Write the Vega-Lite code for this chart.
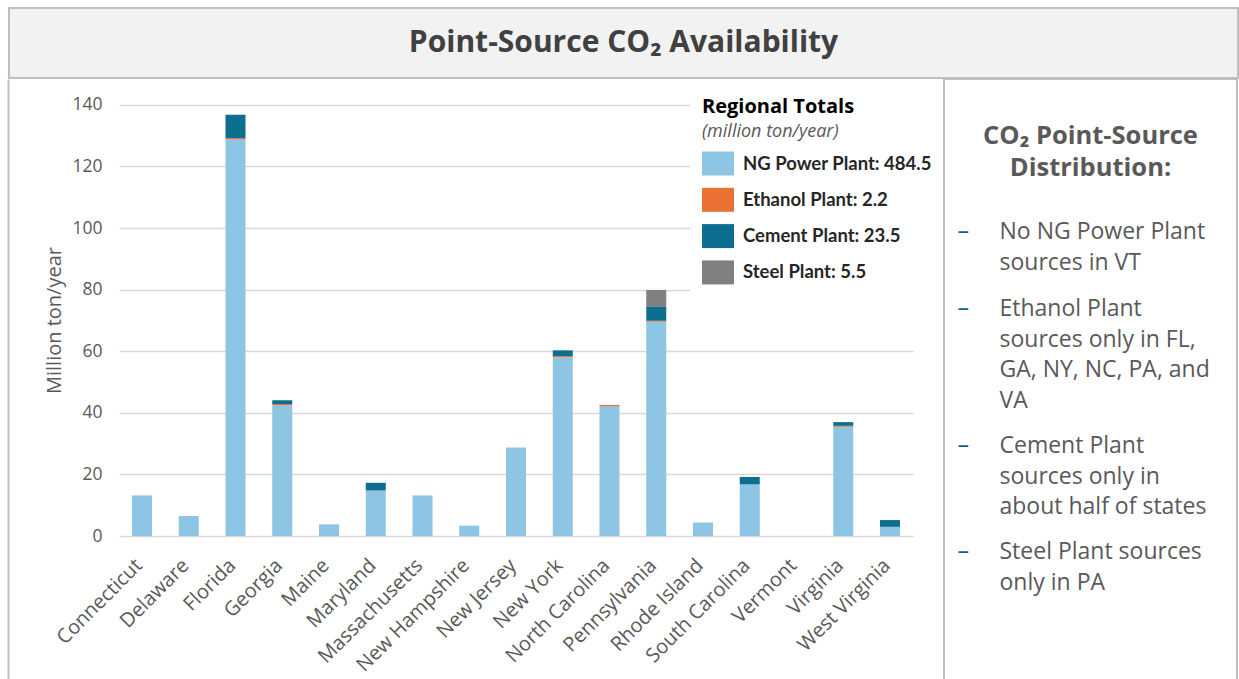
{
  "$schema": "https://vega.github.io/schema/vega-lite/v6.json",
  "padding": {"left": 8, "top": 7, "right": 0, "bottom": 0},
  "background": "white",
  "spacing": -2,
  "resolve": {"legend": {"color": "independent"}},
  "config": {
    "font": "Open Sans",
    "view": {"stroke": null},
    "axis": {"labelFont": "Open Sans", "titleFont": "Open Sans"},
    "text": {"font": "Open Sans"}
  },
  "datasets": {
    "emissions": [
      {"state": "Connecticut", "source": "NG Power Plant", "tier": 1, "value": 13.2},
      {"state": "Delaware", "source": "NG Power Plant", "tier": 1, "value": 6.5},
      {"state": "Florida", "source": "NG Power Plant", "tier": 1, "value": 128.8},
      {"state": "Florida", "source": "Ethanol Plant", "tier": 2, "value": 0.4},
      {"state": "Florida", "source": "Cement Plant", "tier": 3, "value": 7.6},
      {"state": "Georgia", "source": "NG Power Plant", "tier": 1, "value": 42.5},
      {"state": "Georgia", "source": "Ethanol Plant", "tier": 2, "value": 0.4},
      {"state": "Georgia", "source": "Cement Plant", "tier": 3, "value": 1.2},
      {"state": "Maine", "source": "NG Power Plant", "tier": 1, "value": 3.8},
      {"state": "Maryland", "source": "NG Power Plant", "tier": 1, "value": 14.8},
      {"state": "Maryland", "source": "Cement Plant", "tier": 3, "value": 2.5},
      {"state": "Massachusetts", "source": "NG Power Plant", "tier": 1, "value": 13.2},
      {"state": "New Hampshire", "source": "NG Power Plant", "tier": 1, "value": 3.4},
      {"state": "New Jersey", "source": "NG Power Plant", "tier": 1, "value": 28.8},
      {"state": "New York", "source": "NG Power Plant", "tier": 1, "value": 58.0},
      {"state": "New York", "source": "Ethanol Plant", "tier": 2, "value": 0.4},
      {"state": "New York", "source": "Cement Plant", "tier": 3, "value": 1.9},
      {"state": "North Carolina", "source": "NG Power Plant", "tier": 1, "value": 42.2},
      {"state": "North Carolina", "source": "Ethanol Plant", "tier": 2, "value": 0.4},
      {"state": "Pennsylvania", "source": "NG Power Plant", "tier": 1, "value": 69.6},
      {"state": "Pennsylvania", "source": "Ethanol Plant", "tier": 2, "value": 0.3},
      {"state": "Pennsylvania", "source": "Cement Plant", "tier": 3, "value": 4.5},
      {"state": "Pennsylvania", "source": "Steel Plant", "tier": 4, "value": 5.5},
      {"state": "Rhode Island", "source": "NG Power Plant", "tier": 1, "value": 4.4},
      {"state": "South Carolina", "source": "NG Power Plant", "tier": 1, "value": 16.8},
      {"state": "South Carolina", "source": "Cement Plant", "tier": 3, "value": 2.4},
      {"state": "Virginia", "source": "NG Power Plant", "tier": 1, "value": 35.5},
      {"state": "Virginia", "source": "Ethanol Plant", "tier": 2, "value": 0.3},
      {"state": "Virginia", "source": "Cement Plant", "tier": 3, "value": 1.2},
      {"state": "West Virginia", "source": "NG Power Plant", "tier": 1, "value": 3.0},
      {"state": "West Virginia", "source": "Cement Plant", "tier": 3, "value": 2.2}
    ],
    "notes": [
      {"item": 1, "lines": ["No NG Power Plant", "sources in VT"]},
      {"item": 2, "lines": ["Ethanol Plant", "sources only in FL,", "GA, NY, NC, PA, and", "VA"]},
      {"item": 3, "lines": ["Cement Plant", "sources only in", "about half of states"]},
      {"item": 4, "lines": ["Steel Plant sources", "only in PA"]}
    ]
  },
  "vconcat": [
    {
      "width": 1229,
      "height": 70,
      "view": {"fill": "#f2f2f2", "stroke": "#bfbfbf", "strokeWidth": 2},
      "data": {"values": [{"heading": "Point-Source CO₂ Availability"}]},
      "mark": {"type": "text", "fontSize": 30, "fontWeight": "bold", "color": "#404040", "align": "center", "baseline": "middle"},
      "encoding": {
        "x": {"datum": 0.5, "type": "quantitative", "scale": {"domain": [0, 1]}, "axis": null},
        "y": {"datum": 0.5, "type": "quantitative", "scale": {"domain": [0, 1]}, "axis": null},
        "text": {"field": "heading", "type": "nominal"}
      }
    },
    {
      "resolve": {"legend": {"color": "independent"}},
      "spacing": -2,
      "hconcat": [
        {
          "width": 1,
          "height": 600,
          "data": {"values": []},
          "mark": {"type": "point"},
          "encoding": {}
        },
        {
          "width": 794,
          "height": 600,
          "title": {
            "text": "(million ton/year)",
            "anchor": "start",
            "frame": "group",
            "orient": "top",
            "offset": -62,
            "dx": 583,
            "font": "Open Sans",
            "fontSize": 18,
            "fontStyle": "italic",
            "fontWeight": "normal",
            "color": "#595959"
          },
          "data": {"name": "emissions"},
          "mark": {"type": "bar"},
          "encoding": {
            "x": {
              "field": "state",
              "type": "nominal",
              "scale": {
                "domain": ["Connecticut", "Delaware", "Florida", "Georgia", "Maine", "Maryland", "Massachusetts", "New Hampshire", "New Jersey", "New York", "North Carolina", "Pennsylvania", "Rhode Island", "South Carolina", "Vermont", "Virginia", "West Virginia"],
                "paddingInner": 0.572,
                "paddingOuter": 0.278
              },
              "axis": {
                "orient": "bottom",
                "offset": -143,
                "labelAngle": -45,
                "labelFontSize": 20,
                "labelColor": "#595959",
                "labelPadding": 19,
                "labelOffset": -10,
                "labelOverlap": false,
                "ticks": false,
                "domain": false,
                "grid": false,
                "title": null
              }
            },
            "y": {
              "field": "value",
              "type": "quantitative",
              "stack": "zero",
              "scale": {"domain": [-46.4, 148.4], "nice": false, "zero": false},
              "axis": {
                "offset": 111,
                "values": [0, 20, 40, 60, 80, 100, 120, 140],
                "grid": true,
                "gridColor": "#d9d9d9",
                "gridWidth": 1.3,
                "ticks": false,
                "domain": true,
                "domainColor": "#bfbfbf",
                "domainWidth": 2,
                "labelFontSize": 17.5,
                "labelColor": "#595959",
                "labelPadding": -94,
                "title": "Million ton/year",
                "titleFontSize": 20,
                "titleFontWeight": "normal",
                "titleColor": "#595959",
                "titleAngle": -90,
                "titleAlign": "center",
                "titleBaseline": "middle",
                "titleX": 46,
                "titleY": 241
              }
            },
            "order": {"field": "tier", "type": "quantitative", "sort": "ascending"},
            "color": {
              "field": "source",
              "type": "nominal",
              "sort": ["NG Power Plant", "Ethanol Plant", "Cement Plant", "Steel Plant"],
              "scale": {
                "domain": ["NG Power Plant", "Ethanol Plant", "Cement Plant", "Steel Plant"],
                "range": ["#8ec5e4", "#e97132", "#0c6f8f", "#808080"]
              },
              "legend": {
                "orient": "none",
                "legendX": 571,
                "legendY": 5.5,
                "title": "Regional Totals",
                "titleFont": "Open Sans",
                "titleFontSize": 20,
                "titleFontWeight": "bold",
                "titleColor": "#000000",
                "titlePadding": 31,
                "symbolType": "M-1,-0.75H1V0.75H-1Z",
                "symbolSize": 1024,
                "symbolStrokeWidth": 0,
                "symbolOpacity": 1,
                "labelFont": "Lato",
                "labelFontSize": 18.5,
                "labelFontWeight": "bold",
                "labelColor": "#262626",
                "labelOffset": 9,
                "labelLimit": 300,
                "rowPadding": 8.3,
                "padding": 12,
                "fillColor": "white",
                "labelExpr": "datum.label + ': ' + ({'NG Power Plant': '484.5', 'Ethanol Plant': '2.2', 'Cement Plant': '23.5', 'Steel Plant': '5.5'})[datum.label]"
              }
            }
          }
        },
        {
          "width": 293,
          "height": 601,
          "view": {"stroke": "#bfbfbf", "strokeWidth": 2},
          "encoding": {
            "x": {"datum": 0.5, "type": "quantitative", "scale": {"domain": [0, 1]}, "axis": null},
            "y": {"datum": 0.5, "type": "quantitative", "scale": {"domain": [0, 1]}, "axis": null}
          },
          "layer": [
            {
              "data": {"values": [{"heading": ["CO₂ Point-Source", "Distribution:"]}]},
              "mark": {"type": "text", "fontSize": 25.5, "fontWeight": "bold", "color": "#595959", "align": "center", "baseline": "alphabetic", "lineHeight": 32, "dy": -236},
              "encoding": {"text": {"field": "heading", "type": "nominal"}}
            },
            {
              "data": {"name": "notes"},
              "transform": [{"filter": "datum.item == 1"}],
              "layer": [
                {
                  "mark": {"type": "text", "fontSize": 23, "color": "#595959", "align": "left", "baseline": "alphabetic", "lineHeight": 30.7, "dx": -91, "dy": -140.5},
                  "encoding": {"text": {"field": "lines", "type": "nominal"}}
                },
                {
                  "mark": {"type": "text", "text": "–", "fontSize": 23, "color": "#156082", "align": "left", "baseline": "alphabetic", "dx": -133, "dy": -140.5}
                }
              ]
            },
            {
              "data": {"name": "notes"},
              "transform": [{"filter": "datum.item == 2"}],
              "layer": [
                {
                  "mark": {"type": "text", "fontSize": 23, "color": "#595959", "align": "left", "baseline": "alphabetic", "lineHeight": 30.7, "dx": -91, "dy": -63.5},
                  "encoding": {"text": {"field": "lines", "type": "nominal"}}
                },
                {
                  "mark": {"type": "text", "text": "–", "fontSize": 23, "color": "#156082", "align": "left", "baseline": "alphabetic", "dx": -133, "dy": -63.5}
                }
              ]
            },
            {
              "data": {"name": "notes"},
              "transform": [{"filter": "datum.item == 3"}],
              "layer": [
                {
                  "mark": {"type": "text", "fontSize": 23, "color": "#595959", "align": "left", "baseline": "alphabetic", "lineHeight": 30.7, "dx": -91, "dy": 73.5},
                  "encoding": {"text": {"field": "lines", "type": "nominal"}}
                },
                {
                  "mark": {"type": "text", "text": "–", "fontSize": 23, "color": "#156082", "align": "left", "baseline": "alphabetic", "dx": -133, "dy": 73.5}
                }
              ]
            },
            {
              "data": {"name": "notes"},
              "transform": [{"filter": "datum.item == 4"}],
              "layer": [
                {
                  "mark": {"type": "text", "fontSize": 23, "color": "#595959", "align": "left", "baseline": "alphabetic", "lineHeight": 30.7, "dx": -91, "dy": 179.5},
                  "encoding": {"text": {"field": "lines", "type": "nominal"}}
                },
                {
                  "mark": {"type": "text", "text": "–", "fontSize": 23, "color": "#156082", "align": "left", "baseline": "alphabetic", "dx": -133, "dy": 179.5}
                }
              ]
            }
          ]
        }
      ]
    }
  ]
}
